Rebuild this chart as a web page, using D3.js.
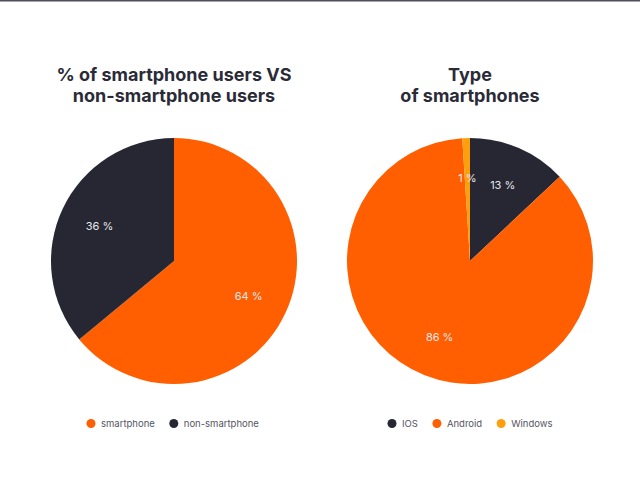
<!DOCTYPE html>
<html>
<head>
<meta charset="utf-8">
<script src="https://cdn.jsdelivr.net/npm/d3@7"></script>
<style>
  body { margin: 0; background: #fff; }
  svg { display: block; font-family: "Inter", "Noto Sans", sans-serif; }
  .chart-title { font-weight: 700; font-size: 18px; fill: #2b2b38; }
  .slice-label { font-size: 11px; fill: #e6e6ec; }
  .legend-text { font-size: 9.5px; fill: #55555f; }
</style>
</head>
<body>
<div id="chart"></div>
<script>
// chart 1: smartphone vs non-smartphone
const usersCategories = ["smartphone", "non-smartphone"];
const usersValues = [64, 36];
const usersTitle = ["% of smartphone users VS", "non-smartphone users"];

// chart 2: type of smartphones
const typeCategories = ["IOS", "Android", "Windows"];
const typeValues = [13, 86, 1];
const typeTitle = ["Type", "of smartphones"];

const colors = {
  smartphone: "#ff5f00",
  "non-smartphone": "#262733",
  IOS: "#262733",
  Android: "#ff5f00",
  Windows: "#ff9f0d",
};

const width = 640, height = 477;

const svg = d3.select("#chart").append("svg")
  .attr("width", width)
  .attr("height", height);

// thin line across the top
svg.append("line")
  .attr("x1", 0).attr("x2", width)
  .attr("y1", 0.75).attr("y2", 0.75)
  .attr("stroke", "#4f4f5a")
  .attr("stroke-width", 1.5);

function drawPie(cx, categories, values, title, legendX) {
  const cy = 261, radius = 123;
  const g = svg.append("g").attr("transform", `translate(${cx},${cy})`);

  const data = categories.map((c, i) => ({ name: c, value: values[i] }));
  const pie = d3.pie().value(d => d.value).sort(null);
  const arc = d3.arc().innerRadius(0).outerRadius(radius);
  const labelArc = d3.arc().innerRadius(radius * 0.67).outerRadius(radius * 0.67);

  const arcs = pie(data);

  g.selectAll(".slice")
    .data(arcs)
    .join("path")
    .attr("class", "slice")
    .attr("d", arc)
    .attr("fill", d => colors[d.data.name]);

  g.selectAll(".slice-label")
    .data(arcs)
    .join("text")
    .attr("class", "slice-label")
    .attr("transform", d => `translate(${labelArc.centroid(d)})`)
    .attr("text-anchor", "middle")
    .attr("dy", "0.35em")
    .text(d => `${d.data.value} %`);

  // title, two lines
  svg.append("text")
    .attr("class", "chart-title")
    .attr("text-anchor", "middle")
    .selectAll("tspan")
    .data(title)
    .join("tspan")
    .attr("x", cx)
    .attr("y", (d, i) => 81 + i * 21)
    .text(d => d);

  // legend
  const legend = svg.append("g").attr("transform", `translate(${legendX},423.5)`);
  let x = 0;
  categories.forEach(c => {
    const item = legend.append("g").attr("transform", `translate(${x},0)`);
    item.append("circle").attr("r", 4.5).attr("fill", colors[c]);
    const t = item.append("text")
      .attr("class", "legend-text")
      .attr("x", 10)
      .attr("dy", "0.35em")
      .text(c);
    x += 10 + t.node().getComputedTextLength() + 19;
  });
}

drawPie(174, usersCategories, usersValues, usersTitle, 91);
drawPie(470, typeCategories, typeValues, typeTitle, 392);
</script>
</body>
</html>
